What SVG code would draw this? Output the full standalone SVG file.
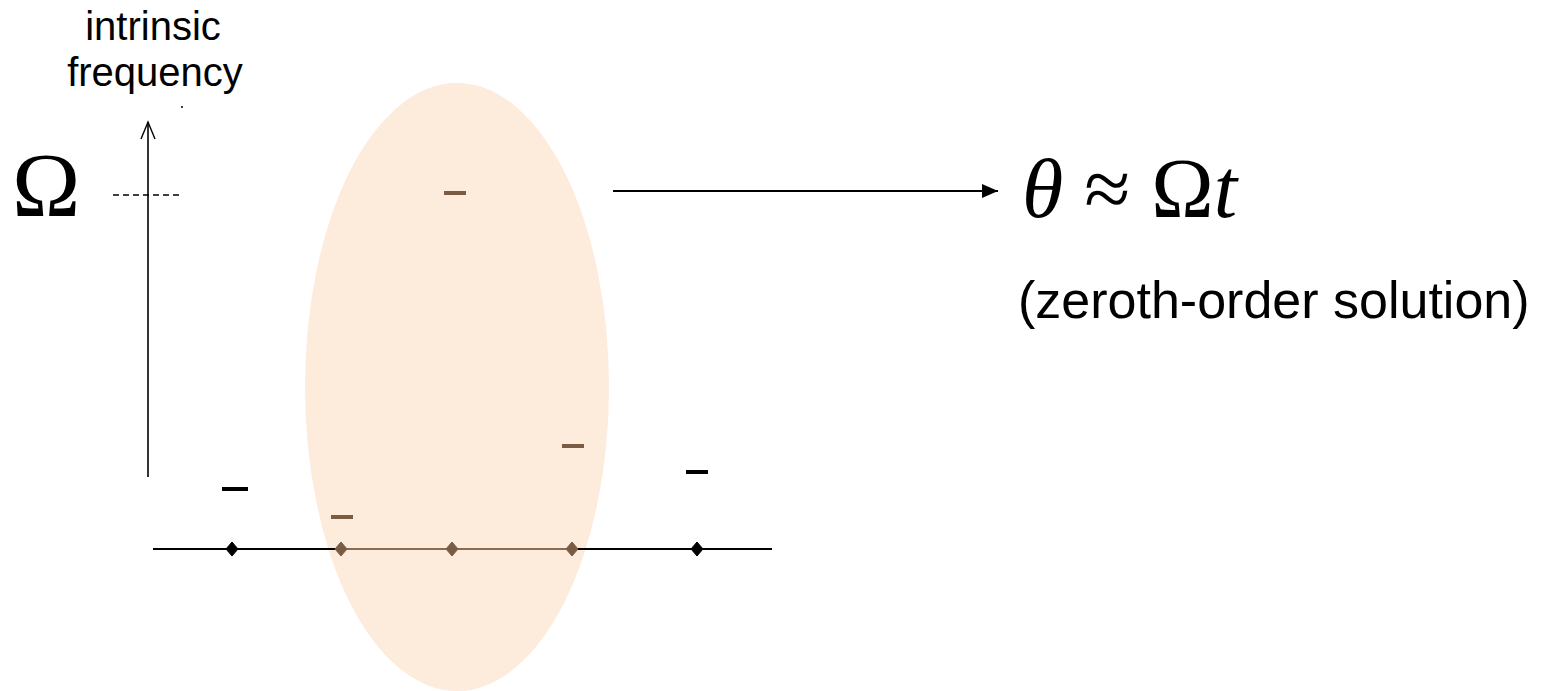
<svg xmlns="http://www.w3.org/2000/svg" width="1555" height="691" viewBox="0 0 1555 691">
<style>
.lbl{font-family:"Liberation Sans",Arial,sans-serif;fill:#000}
.math{font-family:"Liberation Serif","Times New Roman",serif;fill:#000}
.tick{stroke-width:4}
.blk{stroke:#000;fill:#000}
.brn{stroke:#7a5c44;fill:#7a5c44}
</style>
<defs>
<marker id="fill" markerWidth="16" markerHeight="14" refX="16" refY="7" orient="auto" markerUnits="userSpaceOnUse">
<path d="M0,0 L16,7 L0,14 Z" fill="#000"/>
</marker>
</defs>
<rect width="1555" height="691" fill="#fff"/>
<g id="ellipse">
<ellipse cx="457" cy="387" rx="152" ry="304" fill="#fdebdc"/>
</g>
<g id="axis-label">
<text class="lbl" x="153" y="40" font-size="40" text-anchor="middle">intrinsic</text>
<text class="lbl" x="155" y="86" font-size="40" text-anchor="middle">frequency</text>
<circle cx="182" cy="107" r="1" fill="#000"/>
</g>
<g id="omega-label">
<text class="math" x="12" y="216" font-size="92">Ω</text>
</g>
<g id="connectors">
<line x1="148" y1="477" x2="148" y2="122" stroke="#000" stroke-width="1.6"/>
<path d="M141,139 L148,122 L155,139" fill="none" stroke="#000" stroke-width="1.4"/>
<line x1="113" y1="195" x2="180" y2="195" stroke="#000" stroke-width="1.4" stroke-dasharray="6,4"/>
<line x1="153" y1="549" x2="341" y2="549" stroke="#000" stroke-width="2"/>
<line x1="341" y1="549" x2="572" y2="549" stroke="#8a6a52" stroke-width="2"/>
<line x1="572" y1="549" x2="772" y2="549" stroke="#000" stroke-width="2"/>
<line x1="613" y1="191" x2="998" y2="191" stroke="#000" stroke-width="2" marker-end="url(#fill)"/>
</g>
<g id="nodes">
<g id="n1"><path class="blk" d="M232,542 L238,549 L232,556 L226,549 Z"/><line class="blk tick" x1="222" y1="489" x2="248" y2="489"/></g>
<g id="n2"><path class="brn" d="M341,542 L347,549 L341,556 L335,549 Z"/><line class="brn tick" x1="331" y1="517" x2="353" y2="517"/></g>
<g id="n3"><path class="brn" d="M452,542 L458,549 L452,556 L446,549 Z"/><line class="brn tick" x1="444" y1="193" x2="466" y2="193"/></g>
<g id="n4"><path class="brn" d="M572,542 L578,549 L572,556 L566,549 Z"/><line class="brn tick" x1="562" y1="446" x2="584" y2="446"/></g>
<g id="n5"><path class="blk" d="M697,542 L703,549 L697,556 L691,549 Z"/><line class="blk tick" x1="686" y1="472" x2="708" y2="472"/></g>
</g>
<g id="equation">
<text class="math" x="1022" y="217" font-size="84"><tspan font-style="italic">θ</tspan> ≈ Ω<tspan font-style="italic">t</tspan></text>
<text class="lbl" x="1018" y="318" font-size="52">(zeroth-order solution)</text>
</g>
</svg>
